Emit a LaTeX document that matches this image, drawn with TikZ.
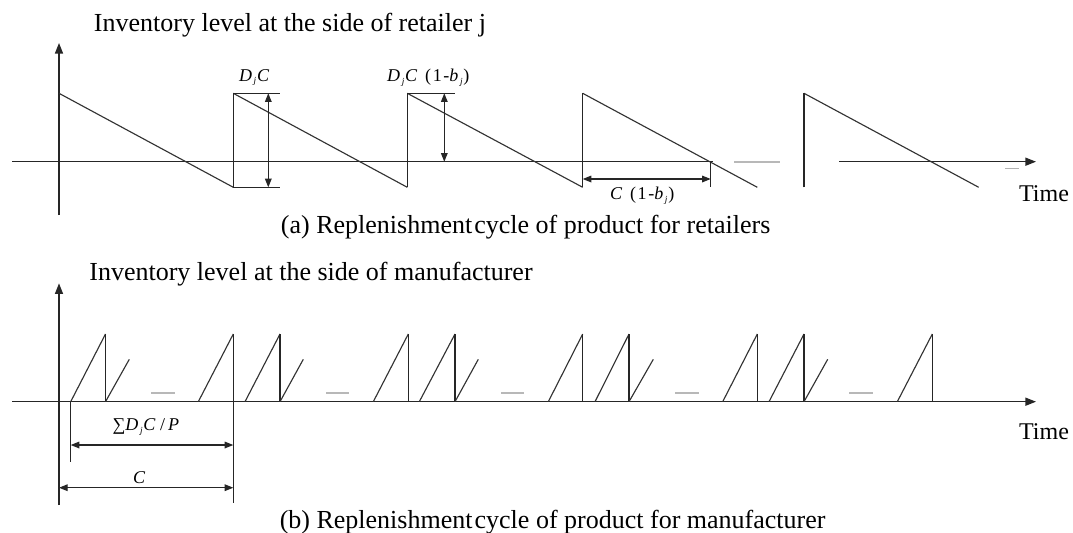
\documentclass[tikz,border=0pt]{standalone}
\usepackage{fontspec}
\setmainfont{Liberation Serif}
\newfontfamily\lblfont{Liberation Serif}[LetterSpace=9]
\usetikzlibrary{arrows.meta}
\tikzset{
  ax/.style={line width=1.15pt, draw=black!85},
  axarrow/.style={ax, -{Triangle[length=8pt,width=6pt]}},
  saw/.style={line width=0.85pt, draw=black!80, line join=miter},
  riser/.style={line width=1.05pt, draw=black!85},
  dimline/.style={line width=0.85pt, draw=black!85, {Triangle[length=6.5pt,width=5pt]}-{Triangle[length=6.5pt,width=5pt]}},
  gapmark/.style={line width=1.3pt, draw=black!28},
  ttl/.style={font=\fontsize{19.5pt}{22pt}\selectfont, inner sep=0pt},
  timelbl/.style={font=\fontsize{18pt}{20pt}\selectfont, inner sep=0pt},
  lbl/.style={font=\lblfont\fontsize{13.5pt}{15pt}\selectfont, inner sep=0pt},
}
\newcommand{\Dj}{\textit{D}\raisebox{-0.35ex}{\scriptsize\textit{j}}\textit{C}}
\newcommand{\bj}{(1-\textit{b}\raisebox{-0.35ex}{\scriptsize\textit{j}})}
\begin{document}
\begin{tikzpicture}[x=0.75pt,y=-0.75pt]
\useasboundingbox[fill=white] (0,0) rectangle (1073,532);

% ---------------- panel (a) ----------------
\node[ttl] (ta) at (290,25) {Inventory level at the side of retailer j};
\coordinate (ya0) at (59,215);
\coordinate (ya1) at (59,43);
\draw[axarrow] (ya0) -- (ya1);
\coordinate (xa0) at (12,161.7);
\coordinate (xa1) at (713,161.7);
\coordinate (xa2) at (839,161.7);
\coordinate (xa3) at (1036,161.7);
\draw[ax] (xa0) -- (xa1);
\draw[gapmark] (734,161.7) -- (780,161.7);
\draw[axarrow] (xa2) -- (xa3);
\draw[line width=0.8pt, draw=black!30] (1005,168.3) -- (1019,168.3);

% sawtooth
\draw[saw] (59,93.3) -- (233.3,187.3);
\draw[saw] (233.3,93.3) -- (407.3,187.3);
\draw[saw] (407.3,93.3) -- (582.7,187.3);
\draw[saw] (582.7,93.3) -- (757.3,187.3);
\draw[saw] (804,93.3) -- (978.7,187.3);
\draw[riser] (233.3,187.3) -- (233.3,93.3);
\draw[riser] (407.3,187.3) -- (407.3,93.3);
\draw[riser] (582.7,187.3) -- (582.7,93.3);
\draw[riser] (804,187.3) -- (804,93.3);

% dimension marks
\draw[riser] (233.3,93.3) -- (280,93.3);
\draw[riser] (233.3,187.3) -- (280,187.3);
\draw[riser] (407.3,93.3) -- (455,93.3);
\coordinate (d1t) at (268.3,93.3);
\coordinate (d1b) at (268.3,187.3);
\draw[dimline] (d1t) -- (d1b);
\coordinate (d2t) at (444.3,93.3);
\coordinate (d2b) at (444.3,161.7);
\draw[dimline] (d2t) -- (d2b);
\draw[riser] (710.7,161.7) -- (710.7,186.7);
\coordinate (d3l) at (582.7,179);
\coordinate (d3r) at (710.7,179);
\draw[dimline] (d3l) -- (d3r);

\node[lbl] (l1) at (255,77.5) {\Dj};
\node[lbl] (l2) at (428.3,77.5) {\Dj\ \bj};
\node[lbl] (l3) at (642.3,195.5) {\textit{C} \bj};
\node[timelbl] (timea) at (1044,193.3) {Time};
\node[ttl] (capa) at (525.6,227) {(a) Replenishment\hspace{0.08em}cycle of product for retailers};

% ---------------- panel (b) ----------------
\node[ttl] (tb) at (311,274) {Inventory level at the side of manufacturer};
\coordinate (yb0) at (59,505);
\coordinate (yb1) at (59,283.3);
\draw[axarrow] (yb0) -- (yb1);
\coordinate (xb0) at (12,401.7);
\coordinate (xb1) at (1036,401.7);
\draw[axarrow] (xb0) -- (xb1);

\foreach \s/\e in {70.7/105.5, 198.3/233.3, 245/280, 373.3/408.3, 419.3/455,
                   548.3/582.7, 595/629, 722.7/757.3, 769/804, 897.3/932.3}{
  \draw[saw] (\s,401.7) -- (\e,334);
  \draw[riser] (\e,334) -- (\e,401.7);
}
\foreach \e/\r in {105.5/129.3, 280/303.3, 455/478.3, 629/653.3, 804/827.7}{
  \draw[saw] (\e,401.7) -- (\r,359.3);
}
\foreach \a/\b in {151/175, 326/349.3, 501/524, 675/699.3, 849.3/873.3}{
  \draw[gapmark] (\a,393.3) -- (\b,393.3);
}

% dimension marks
\draw[riser] (70.7,401.7) -- (70.7,461.7);
\draw[riser] (233.3,401.7) -- (233.3,503.3);
\coordinate (d4l) at (70.7,445);
\coordinate (d4r) at (233.3,445);
\draw[dimline] (d4l) -- (d4r);
\coordinate (d5l) at (59,487.7);
\coordinate (d5r) at (233.3,487.7);
\draw[dimline] (d5l) -- (d5r);
\node[lbl] (l4) at (146.7,427.3) {∑\Dj\,/\,\textit{P}};
\node[lbl] (l5) at (140,477.3) {\textit{C}};
\node[timelbl] (timeb) at (1044,431.7) {Time};
\node[ttl] (capb) at (552.6,521.7) {(b) Replenishment\hspace{0.08em}cycle of product for manufacturer};
\end{tikzpicture}
\end{document}
